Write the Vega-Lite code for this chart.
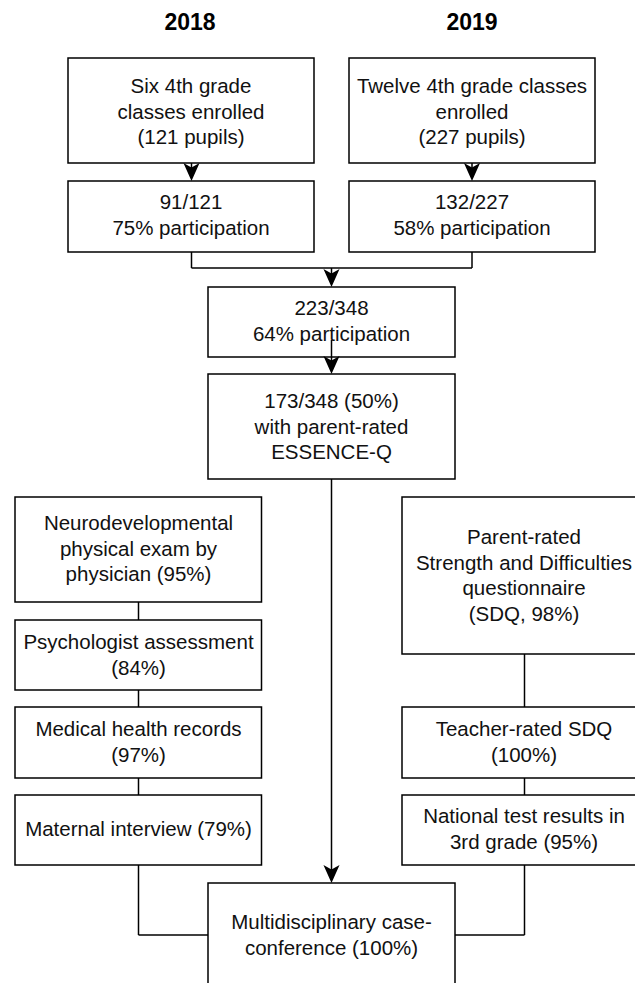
{
  "$schema": "https://vega.github.io/schema/vega-lite/v6.json",
  "width": 635,
  "height": 983,
  "padding": 0,
  "autosize": {"type": "fit", "contains": "padding"},
  "background": "white",
  "config": {"view": {"stroke": null}},
  "datasets": {
    "boxes": [
      {"id": "A", "x": 68, "x2": 314, "y": 58, "y2": 163},
      {"id": "B", "x": 349, "x2": 595, "y": 58, "y2": 163},
      {"id": "C", "x": 68, "x2": 314, "y": 181, "y2": 252},
      {"id": "C2", "x": 349, "x2": 595, "y": 181, "y2": 252},
      {"id": "D", "x": 208, "x2": 455, "y": 287, "y2": 357},
      {"id": "E", "x": 208, "x2": 455, "y": 374, "y2": 479},
      {"id": "F", "x": 15, "x2": 261.5, "y": 497, "y2": 602},
      {"id": "G", "x": 15, "x2": 261.5, "y": 620, "y2": 690},
      {"id": "H", "x": 15, "x2": 261.5, "y": 707, "y2": 778},
      {"id": "I", "x": 15, "x2": 261.5, "y": 795, "y2": 865},
      {"id": "J", "x": 402, "x2": 648, "y": 497, "y2": 654},
      {"id": "K", "x": 402, "x2": 648, "y": 707, "y2": 778},
      {"id": "L", "x": 402, "x2": 648, "y": 795, "y2": 865},
      {"id": "M", "x": 208, "x2": 455, "y": 883, "y2": 1000}
    ],
    "links": [
      {"x": 191.5, "x2": 191.5, "y": 163, "y2": 177},
      {"x": 472, "x2": 472, "y": 163, "y2": 177},
      {"x": 191.5, "x2": 191.5, "y": 252, "y2": 268},
      {"x": 472, "x2": 472, "y": 252, "y2": 268},
      {"x": 191.5, "x2": 472, "y": 268, "y2": 268},
      {"x": 331.5, "x2": 331.5, "y": 268, "y2": 283},
      {"x": 331.5, "x2": 331.5, "y": 340, "y2": 370},
      {"x": 331.5, "x2": 331.5, "y": 479, "y2": 879},
      {"x": 138.5, "x2": 138.5, "y": 602, "y2": 620},
      {"x": 138.5, "x2": 138.5, "y": 690, "y2": 707},
      {"x": 138.5, "x2": 138.5, "y": 778, "y2": 795},
      {"x": 138.5, "x2": 138.5, "y": 865, "y2": 935},
      {"x": 138.5, "x2": 208, "y": 935, "y2": 935},
      {"x": 524.5, "x2": 524.5, "y": 654, "y2": 707},
      {"x": 524.5, "x2": 524.5, "y": 778, "y2": 795},
      {"x": 524.5, "x2": 524.5, "y": 865, "y2": 935},
      {"x": 455, "x2": 524.5, "y": 935, "y2": 935}
    ],
    "arrows": [
      {"x": 191.5, "y": 181},
      {"x": 472, "y": 181},
      {"x": 331.5, "y": 287},
      {"x": 331.5, "y": 374},
      {"x": 331.5, "y": 883}
    ],
    "labels": [
      {"x": 191, "y": 87, "label": "Six 4th grade\nclasses enrolled\n(121 pupils)"},
      {"x": 472, "y": 87, "label": "Twelve 4th grade classes\nenrolled\n(227 pupils)"},
      {"x": 191, "y": 203, "label": "91/121\n75% participation"},
      {"x": 472, "y": 203, "label": "132/227\n58% participation"},
      {"x": 331.5, "y": 309, "label": "223/348\n64% participation"},
      {"x": 331.5, "y": 402, "label": "173/348 (50%)\nwith parent-rated\nESSENCE-Q"},
      {"x": 138.5, "y": 524, "label": "Neurodevelopmental\nphysical exam by\nphysician (95%)"},
      {"x": 138.5, "y": 643, "label": "Psychologist assessment\n(84%)"},
      {"x": 138.5, "y": 730, "label": "Medical health records\n(97%)"},
      {"x": 138.5, "y": 830, "label": "Maternal interview (79%)"},
      {"x": 524, "y": 538, "label": "Parent-rated\nStrength and Difficulties\nquestionnaire\n(SDQ, 98%)"},
      {"x": 524, "y": 730, "label": "Teacher-rated SDQ\n(100%)"},
      {"x": 524, "y": 817, "label": "National test results in\n3rd grade (95%)"},
      {"x": 331.5, "y": 923, "label": "Multidisciplinary case-\nconference (100%)"}
    ],
    "years": [
      {"x": 190, "y": 23, "label": "2018"},
      {"x": 472, "y": 23, "label": "2019"}
    ]
  },
  "layer": [
    {
      "data": {"name": "boxes"},
      "mark": {"type": "rect", "fill": "white", "stroke": "#000000", "strokeWidth": 1.5, "clip": true},
      "encoding": {
        "x": {"field": "x", "type": "quantitative", "scale": {"domain": [0, 635], "nice": false, "zero": false}, "axis": null},
        "x2": {"field": "x2"},
        "y": {"field": "y", "type": "quantitative", "scale": {"domain": [0, 983], "nice": false, "zero": false, "reverse": true}, "axis": null},
        "y2": {"field": "y2"}
      }
    },
    {
      "data": {"name": "links"},
      "mark": {"type": "rule", "color": "#000000", "strokeWidth": 1.5},
      "encoding": {
        "x": {"field": "x", "type": "quantitative", "scale": {"domain": [0, 635], "nice": false, "zero": false}, "axis": null},
        "x2": {"field": "x2"},
        "y": {"field": "y", "type": "quantitative", "scale": {"domain": [0, 983], "nice": false, "zero": false, "reverse": true}, "axis": null},
        "y2": {"field": "y2"}
      }
    },
    {
      "data": {"name": "arrows"},
      "mark": {"type": "point", "shape": "M0,0L-0.9,-2L0,-1.5L0.9,-2Z", "filled": true, "color": "#000000", "opacity": 1, "size": 320},
      "encoding": {
        "x": {"field": "x", "type": "quantitative", "scale": {"domain": [0, 635], "nice": false, "zero": false}, "axis": null},
        "y": {"field": "y", "type": "quantitative", "scale": {"domain": [0, 983], "nice": false, "zero": false, "reverse": true}, "axis": null}
      }
    },
    {
      "data": {"name": "labels"},
      "mark": {"type": "text", "font": "Liberation Sans", "fontSize": 20.5, "lineHeight": 25.5, "lineBreak": "\n", "align": "center", "baseline": "middle", "color": "#111111"},
      "encoding": {
        "x": {"field": "x", "type": "quantitative", "scale": {"domain": [0, 635], "nice": false, "zero": false}, "axis": null},
        "y": {"field": "y", "type": "quantitative", "scale": {"domain": [0, 983], "nice": false, "zero": false, "reverse": true}, "axis": null},
        "text": {"field": "label"}
      }
    },
    {
      "data": {"name": "years"},
      "mark": {"type": "text", "font": "Liberation Sans", "fontSize": 23, "fontWeight": "bold", "align": "center", "baseline": "middle", "color": "#000000"},
      "encoding": {
        "x": {"field": "x", "type": "quantitative", "scale": {"domain": [0, 635], "nice": false, "zero": false}, "axis": null},
        "y": {"field": "y", "type": "quantitative", "scale": {"domain": [0, 983], "nice": false, "zero": false, "reverse": true}, "axis": null},
        "text": {"field": "label"}
      }
    }
  ]
}
